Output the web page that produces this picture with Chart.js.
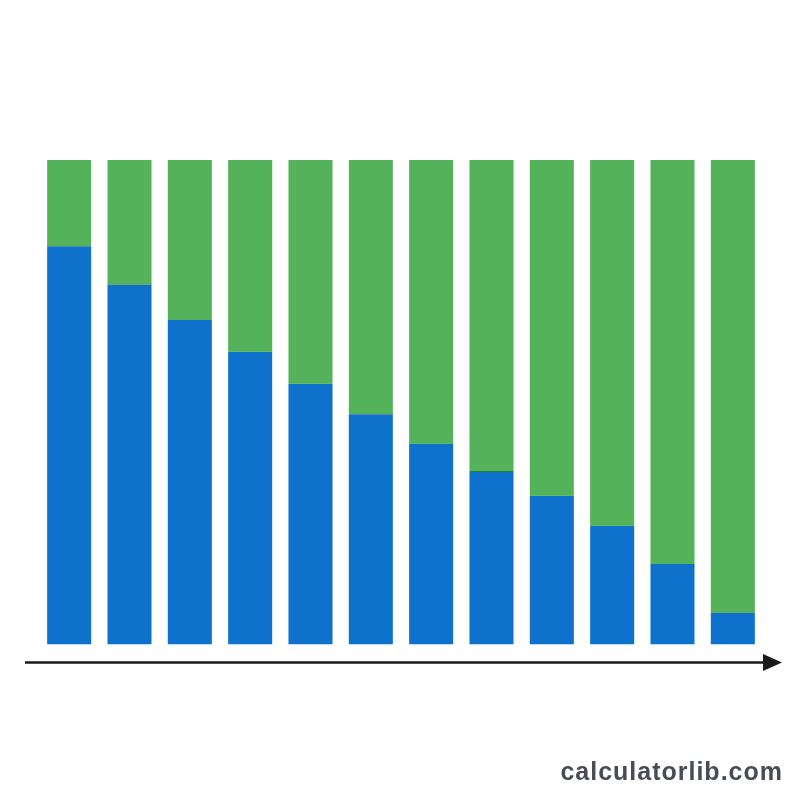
<!DOCTYPE html>
<html>
<head>
<meta charset="utf-8">
<script src="https://cdn.jsdelivr.net/npm/chart.js@4/dist/chart.umd.min.js"></script>
<style>
  html, body { margin: 0; padding: 0; background: #ffffff; }
  #wrap { position: relative; width: 800px; height: 800px; }
  #watermark {
    position: absolute; right: 17px; top: 759px;
    font-family: "Liberation Sans", Arial, sans-serif; font-weight: bold;
    font-size: 25px; letter-spacing: 1px; color: #474c57; line-height: 1;
  }
</style>
</head>
<body>
<div id="wrap">
  <canvas id="c" width="800" height="800"></canvas>
  <div id="watermark">calculatorlib.com</div>
</div>
<script>
const categories = ["1","2","3","4","5","6","7","8","9","10","11","12"];
const blueValues  = [82.2, 74.3, 67.0, 60.4, 53.8, 47.5, 41.5, 35.8, 30.7, 24.5, 16.6, 6.6];
const greenValues = [17.8, 25.7, 33.0, 39.6, 46.2, 52.5, 58.5, 64.2, 69.3, 75.5, 83.4, 93.4];

const arrowPlugin = {
  id: 'arrow',
  afterDraw(chart) {
    const ctx = chart.ctx;
    ctx.save();
    ctx.strokeStyle = '#1a1a1a';
    ctx.fillStyle = '#1a1a1a';
    ctx.lineWidth = 2.5;
    ctx.beginPath();
    ctx.moveTo(25, 662.5);
    ctx.lineTo(766, 662.5);
    ctx.stroke();
    ctx.beginPath();
    ctx.moveTo(763, 654);
    ctx.lineTo(782, 662.5);
    ctx.lineTo(763, 671);
    ctx.closePath();
    ctx.fill();
    ctx.restore();
  }
};

new Chart(document.getElementById('c'), {
  type: 'bar',
  data: {
    labels: categories,
    datasets: [
      { data: blueValues, backgroundColor: '#0e72cd', borderWidth: 0 },
      { data: greenValues, backgroundColor: '#53b25a', borderWidth: 0 }
    ]
  },
  options: {
    responsive: false,
    animation: false,
    layout: { padding: { left: 39, right: 37, top: 160, bottom: 155.5 } },
    plugins: { legend: { display: false }, tooltip: { enabled: false }, title: { display: false } },
    datasets: { bar: { categoryPercentage: 1.0, barPercentage: 0.73 } },
    scales: {
      x: { stacked: true, display: false, grid: { display: false } },
      y: { stacked: true, display: false, min: 0, max: 100, grid: { display: false } }
    }
  },
  plugins: [arrowPlugin]
});
</script>
</body>
</html>
